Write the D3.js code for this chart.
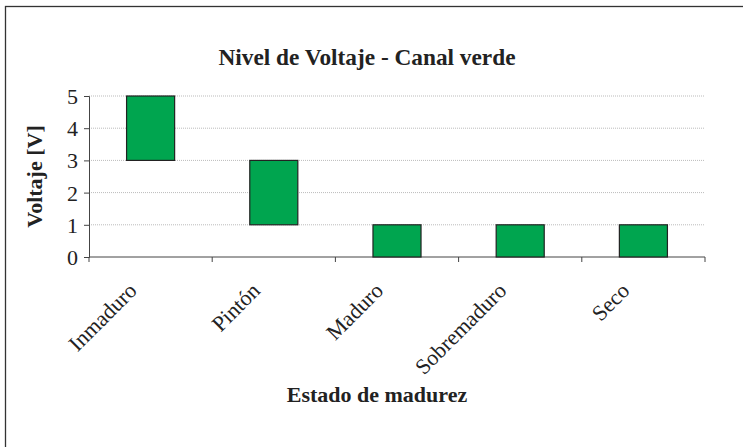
<!DOCTYPE html>
<html>
<head>
<meta charset="utf-8">
<script src="https://cdn.jsdelivr.net/npm/d3@7"></script>
<style>
  body { margin: 0; background: #fff; }
  text { font-family: "Liberation Serif", "Times New Roman", serif; fill: #222; }
</style>
</head>
<body>
<svg width="743" height="447"></svg>
<script>
var categories = ["Inmaduro", "Pintón", "Maduro", "Sobremaduro", "Seco"];
var lowValues = [3, 1, 0, 0, 0];
var highValues = [5, 3, 1, 1, 1];
var yTicks = [0, 1, 2, 3, 4, 5];

var svg = d3.select("svg");

// chart frame (only top and left edges show in the picture)
svg.append("rect")
   .attr("x", 5.5).attr("y", 6.5)
   .attr("width", 760).attr("height", 460)
   .attr("fill", "none")
   .attr("stroke", "#333")
   .attr("stroke-width", 1.3);

var plotLeft = 89, plotRight = 705, plotTop = 96, plotBottom = 257;

var xScale = d3.scaleBand().domain(categories).range([plotLeft, plotRight]).paddingInner(0.61).paddingOuter(0.305),
    yScale = d3.scaleLinear().domain([0, 5]).range([plotBottom, plotTop]);

var band = (plotRight - plotLeft) / categories.length;

svg.append("text")
   .attr("x", 367).attr("y", 65)
   .attr("text-anchor", "middle")
   .attr("font-size", "23.3px")
   .attr("font-weight", "bold")
   .text("Nivel de Voltaje - Canal verde");

// gridlines
svg.append("g").selectAll("line")
   .data(yTicks.filter(function(d) { return d > 0; }))
   .enter().append("line")
   .attr("x1", plotLeft).attr("x2", plotRight)
   .attr("y1", function(d) { return yScale(d); })
   .attr("y2", function(d) { return yScale(d); })
   .attr("stroke", "#bbb")
   .attr("stroke-dasharray", "1,1");

// y axis
var yAxis = svg.append("g")
   .attr("transform", "translate(" + plotLeft + ",0)")
   .call(d3.axisLeft(yScale).tickValues(yTicks).tickFormat(d3.format("d")).tickSize(5).tickPadding(6));
yAxis.selectAll("text").attr("font-size", "22px").attr("dy", "0.34em")
     .style("font-family", "'Liberation Serif', serif").attr("fill", "#222");
yAxis.selectAll("line, path").attr("stroke", "#444");

// x axis: ticks at band boundaries
var xAxis = svg.append("g").attr("transform", "translate(0," + plotBottom + ")");
xAxis.append("line")
   .attr("x1", plotLeft).attr("x2", plotRight)
   .attr("stroke", "#444");
xAxis.selectAll(".tk")
   .data(d3.range(categories.length + 1))
   .enter().append("line")
   .attr("class", "tk")
   .attr("x1", function(i) { return plotLeft + i * band; })
   .attr("x2", function(i) { return plotLeft + i * band; })
   .attr("y1", 0).attr("y2", 5)
   .attr("stroke", "#444");
xAxis.selectAll(".lbl")
   .data(categories)
   .enter().append("text")
   .attr("class", "lbl")
   .attr("font-size", "22px")
   .attr("text-anchor", "end")
   .attr("transform", function(d) {
       var cx = xScale(d) + xScale.bandwidth() / 2;
       return "translate(" + (cx - 12.5) + ",35) rotate(-45)";
   })
   .text(function(d) { return d; });

svg.append("text")
   .attr("transform", "translate(42," + (plotTop + plotBottom) / 2 + ") rotate(-90)")
   .attr("text-anchor", "middle")
   .attr("font-size", "22px")
   .attr("font-weight", "bold")
   .text("Voltaje [V]");

svg.append("text")
   .attr("x", 377).attr("y", 402)
   .attr("text-anchor", "middle")
   .attr("font-size", "22px")
   .attr("font-weight", "bold")
   .text("Estado de madurez");

// floating bars
svg.append("g").selectAll("rect")
   .data(categories)
   .enter().append("rect")
   .attr("x", function(d) { return xScale(d); })
   .attr("y", function(d, i) { return yScale(highValues[i]); })
   .attr("width", xScale.bandwidth())
   .attr("height", function(d, i) { return yScale(lowValues[i]) - yScale(highValues[i]); })
   .attr("fill", "#00a54f")
   .attr("stroke", "#222")
   .attr("stroke-width", 1.2);
</script>
</body>
</html>
